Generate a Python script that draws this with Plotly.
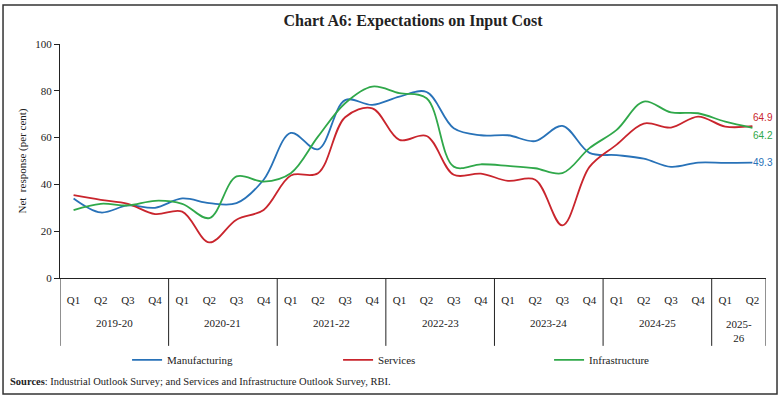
import plotly.graph_objects as go

years = ["2019-20", "2020-21", "2021-22", "2022-23", "2023-24", "2024-25", "2025-<br>26"]
quarters_per_year = [4, 4, 4, 4, 4, 4, 2]
quarter_labels = []
for n in quarters_per_year:
    quarter_labels += ["Q1", "Q2", "Q3", "Q4"][:n]

manufacturing = [34, 28, 31, 30, 34, 32, 32, 42, 62, 55, 76, 74, 77.5, 79.5, 64, 61, 61, 58.5, 65, 53.5, 52.5, 51, 47.5, 49.3, 49.2, 49.3]
services = [35.4, 33.4, 31.7, 27.3, 28.4, 15.2, 24.9, 29.1, 43.8, 44.8, 68.7, 72.5, 59, 60.7, 44.1, 44.6, 41.5, 42, 22.5, 47.5, 57, 66, 64.3, 69, 64.7, 64.9]
infrastructure = [29, 31.7, 31, 33, 31.7, 25.6, 43.4, 41.2, 44.8, 60.4, 74.7, 81.8, 79, 76.8, 47.6, 48.6, 47.9, 46.9, 44.8, 55.5, 63.3, 75.4, 70.8, 70.4, 66.8, 64.2]

series = [
    ("Manufacturing", manufacturing, "#2872B8"),
    ("Services", services, "#C9252D"),
    ("Infrastructure", infrastructure, "#30A84A"),
]
end_label_shift = {"Manufacturing": 0, "Services": 9, "Infrastructure": -8}

serif = "Liberation Serif"
x = list(range(len(quarter_labels)))

fig = go.Figure()
for name, vals, col in series:
    fig.add_trace(go.Scatter(
        x=x, y=vals, name=name, mode="lines",
        line=dict(color=col, width=1.8, shape="spline", smoothing=1.0),
        hoverinfo="skip",
    ))
    fig.add_annotation(
        x=x[-1], y=vals[-1], xref="x", yref="y",
        text=f"{vals[-1]:.1f}", showarrow=False,
        xanchor="left", xshift=-1, yshift=end_label_shift[name],
        font=dict(family="Liberation Sans", size=10, color=col),
    )

# group dividers and year labels
start = 0
bounds = [-0.5]
for yr, n in zip(years, quarters_per_year):
    center = start + (n - 1) / 2
    fig.add_annotation(
        x=center, y=-0.192 if "<br>" not in yr else -0.226, xref="x", yref="paper",
        text=yr, showarrow=False, yanchor="middle",
        font=dict(family=serif, size=11, color="#222"),
    )
    start += n
    bounds.append(start - 0.5)
for b in bounds:
    fig.add_shape(type="line", xref="x", yref="paper", x0=b, x1=b, y0=0, y1=-0.29,
                  line=dict(color="#222", width=1))

# outer frame
fig.add_shape(type="rect", xref="paper", yref="paper",
              x0=-0.0807, x1=1.0156, y0=-0.4957, y1=1.1667,
              line=dict(color="#333", width=1.5), layer="below")

fig.add_annotation(
    xref="paper", yref="paper", x=-0.074, y=-0.442, xanchor="left", yanchor="middle",
    text="<b>Sources</b>: Industrial Outlook Survey; and Services and Infrastructure Outlook Survey, RBI.",
    showarrow=False, font=dict(family=serif, size=10.5, color="#222"),
)

fig.update_layout(
    width=782, height=399,
    margin=dict(l=60, r=16, t=44, b=121),
    paper_bgcolor="white", plot_bgcolor="white",
    title=dict(text="<b>Chart A6: Expectations on Input Cost</b>", x=0.5, xref="paper",
               xanchor="center", y=0.95, yref="container", yanchor="middle",
               font=dict(family=serif, size=16, color="#222")),
    font=dict(family=serif, size=11, color="#222"),
    showlegend=True,
    legend=dict(orientation="h", x=0.095, y=-0.35, xanchor="left", yanchor="middle",
                entrywidth=166, entrywidthmode="pixels",
                font=dict(family=serif, size=11, color="#222"),
                bgcolor="rgba(0,0,0,0)"),
)
fig.update_xaxes(
    range=[-0.5, len(x) - 0.5], tickmode="array", tickvals=x, ticktext=quarter_labels,
    ticks="", showgrid=False, zeroline=False, showline=True, linecolor="#222", linewidth=1,
    ticklabelstandoff=12, tickfont=dict(family=serif, size=11, color="#222"), automargin=False,
)
fig.update_yaxes(
    range=[0, 100], tickvals=[0, 20, 40, 60, 80, 100], ticks="outside", ticklen=5,
    tickcolor="#222", showgrid=False, zeroline=False, showline=True, linecolor="#222",
    linewidth=1, tickfont=dict(family=serif, size=11, color="#222"), automargin=False,
    title=dict(text="Net  response (per cent)", font=dict(family=serif, size=11, color="#222"), standoff=6),
)

fig.write_html("out.html", config={"displayModeBar": False},
               post_script="document.body.style.margin='0';document.body.style.overflow='hidden';")
